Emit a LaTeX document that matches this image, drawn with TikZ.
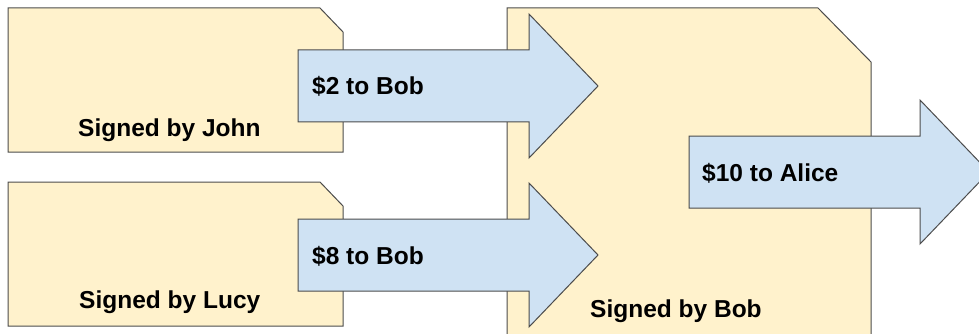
\documentclass[tikz,border=0pt]{standalone}
\usepackage{fontspec}
\setmainfont{Liberation Sans}
\usepackage{tikz}
\definecolor{notefill}{HTML}{FFF2CC}
\definecolor{arrowfill}{HTML}{CFE2F3}
\begin{document}
\begin{tikzpicture}[x=1pt, y=-1pt,
		note/.style={draw=black!70, line width=1pt, fill=notefill, line join=miter},
		blockarrow/.style={draw=black!70, line width=1pt, fill=arrowfill, line join=miter},
		lbl/.style={anchor=base west, inner sep=0pt, font=\fontsize{24.5}{29}\selectfont\bfseries}]
	\useasboundingbox (0,0) rectangle (979,334);
	\clip (0,0) rectangle (979,334);
	% notes
	\foreach \t in {8,182} {
		\draw[note] (8,\t) -- (320,\t) -- (343,\t+24) -- (343,\t+144) -- (8,\t+144) -- cycle;
	}
	\draw[note] (507,350) -- (507,8) -- (818,8) -- (871,62) -- (871,350);
	% arrows
	\foreach \m in {86,255} {
		\draw[blockarrow] (298,\m-36) -- (529,\m-36) -- (529,\m-72) -- (598,\m) -- (529,\m+72)
			-- (529,\m+36) -- (298,\m+36) -- cycle;
	}
	\draw[blockarrow] (689,136) -- (920,136) -- (920,100) -- (989,172) -- (920,244) -- (920,208) -- (689,208) -- cycle;
	% labels
	\node[lbl] (john) at (78,136) {Signed by John};
	\node[lbl] (lucy) at (79,308) {Signed by Lucy};
	\node[lbl] (bob) at (590,317) {Signed by Bob};
	\node[lbl] (two) at (312,95) {\$2 to Bob};
	\node[lbl] (eight) at (312,264) {\$8 to Bob};
	\node[lbl] (ten) at (702,181) {\$10 to Alice};
\end{tikzpicture}
\end{document}
